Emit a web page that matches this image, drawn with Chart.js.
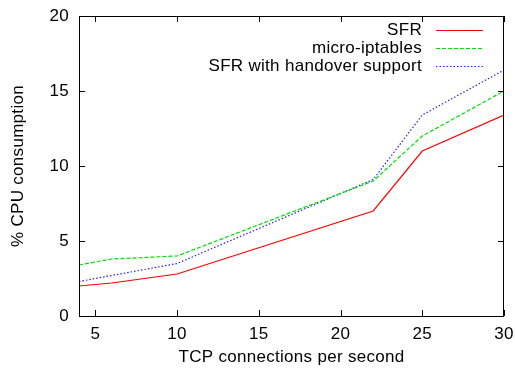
<!DOCTYPE html>
<html>
<head>
<meta charset="utf-8">
<script src="https://cdn.jsdelivr.net/npm/chart.js@4.4.1/dist/chart.umd.min.js"></script>
<style>
  html, body { margin: 0; padding: 0; background: #fff; }
  #wrap { width: 515px; height: 369px; }
</style>
</head>
<body>
<div id="wrap"><canvas id="cpuChart"></canvas></div>
<script>
// data
const connRate   = [4, 6, 10, 22, 25, 30];
const sfr        = [2.0, 2.2, 2.8, 7.0, 11.0, 13.4];
const microIpt   = [3.4, 3.8, 4.0, 9.0, 12.0, 15.0];
const sfrHandover= [2.3, 2.7, 3.5, 9.1, 13.4, 16.4];
const xTicks = [5, 10, 15, 20, 25, 30];
const yTicks = [0, 5, 10, 15, 20];

const FONT = 'Liberation Sans, Arial, Helvetica, sans-serif';
const FSIZE = 17;
const pts = ys => connRate.map((x, i) => ({ x, y: ys[i] }));

// gnuplot text is a touch wider than Arial metrics
const spacing = {
    id: 'spacing',
    beforeInit(chart) { chart.ctx.letterSpacing = '0.3px'; },
    beforeUpdate(chart) { chart.ctx.letterSpacing = '0.3px'; },
    beforeDraw(chart) { chart.ctx.letterSpacing = '0.3px'; }
};

// gnuplot-ish frame: box + inward ticks on all four sides, plus legend on the right
const gnuFrame = {
    id: 'gnuFrame',
    afterDraw(chart) {
        const { ctx, chartArea: a, scales } = chart;
        ctx.save();
        ctx.strokeStyle = '#000';
        ctx.lineWidth = 1;
        ctx.strokeRect(a.left + 0.5, a.top + 0.5, a.right - a.left - 1, a.bottom - a.top);
        const len = 6;
        ctx.beginPath();
        xTicks.forEach(v => {
            const px = Math.round(scales.x.getPixelForValue(v)) + 0.5;
            ctx.moveTo(px, a.bottom); ctx.lineTo(px, a.bottom - len);
            ctx.moveTo(px, a.top); ctx.lineTo(px, a.top + len);
        });
        yTicks.forEach(v => {
            const py = Math.round(scales.y.getPixelForValue(v)) + 0.5;
            ctx.moveTo(a.left, py); ctx.lineTo(a.left + len, py);
            ctx.moveTo(a.right, py); ctx.lineTo(a.right - len, py);
        });
        ctx.stroke();

        // legend: text right-aligned, sample line after it
        ctx.font = FSIZE + 'px ' + FONT;
        ctx.textAlign = 'right';
        ctx.textBaseline = 'middle';
        chart.data.datasets.forEach((ds, i) => {
            const y = 30 + i * 18;
            ctx.fillStyle = '#000';
            ctx.fillText(ds.label, 422, y);
            ctx.strokeStyle = ds.borderColor;
            ctx.lineWidth = ds.borderWidth;
            ctx.setLineDash(ds.borderDash || []);
            ctx.beginPath();
            ctx.moveTo(436, y + 0.5); ctx.lineTo(483, y + 0.5);
            ctx.stroke();
        });
        ctx.restore();
    }
};

new Chart(document.getElementById('cpuChart'), {
    type: 'line',
    data: {
        datasets: [
            { label: 'SFR', data: pts(sfr), borderColor: '#ff0000', borderWidth: 1.2, pointRadius: 0, tension: 0 },
            { label: 'micro-iptables', data: pts(microIpt), borderColor: '#00e000', borderWidth: 1.2, borderDash: [4, 2], pointRadius: 0, tension: 0 },
            { label: 'SFR with handover support', data: pts(sfrHandover), borderColor: '#2020ff', borderWidth: 1.2, borderDash: [1.5, 2], pointRadius: 0, tension: 0 }
        ]
    },
    options: {
        responsive: true, maintainAspectRatio: false, animation: false,
        layout: { padding: { top: 16, right: 11, left: 0, bottom: 0 } },
        plugins: { legend: { display: false }, tooltip: { enabled: false } },
        scales: {
            x: {
                type: 'linear', min: 4, max: 30,
                afterBuildTicks: s => { s.ticks = xTicks.map(v => ({ value: v })); },
                afterFit: s => { s.height = 53; s.paddingLeft = 0; s.paddingRight = 0; },
                grid: { display: false, drawTicks: false },
                border: { display: false },
                ticks: { color: '#000', font: { family: FONT, size: FSIZE }, padding: 8, maxRotation: 0, autoSkip: false },
                title: { display: true, text: 'TCP connections per second', color: '#000', font: { family: FONT, size: FSIZE }, padding: { top: 0, bottom: 1 } }
            },
            y: {
                min: 0, max: 20,
                afterBuildTicks: s => { s.ticks = yTicks.map(v => ({ value: v })); },
                afterFit: s => { s.width = 79; s.paddingTop = 0; s.paddingBottom = 0; },
                grid: { display: false, drawTicks: false },
                border: { display: false },
                ticks: { color: '#000', font: { family: FONT, size: FSIZE }, padding: 10 },
                title: { display: true, text: '% CPU consumption', color: '#000', font: { family: FONT, size: FSIZE }, padding: { top: 8, bottom: 0 } }
            }
        }
    },
    plugins: [spacing, gnuFrame]
});
</script>
</body>
</html>
